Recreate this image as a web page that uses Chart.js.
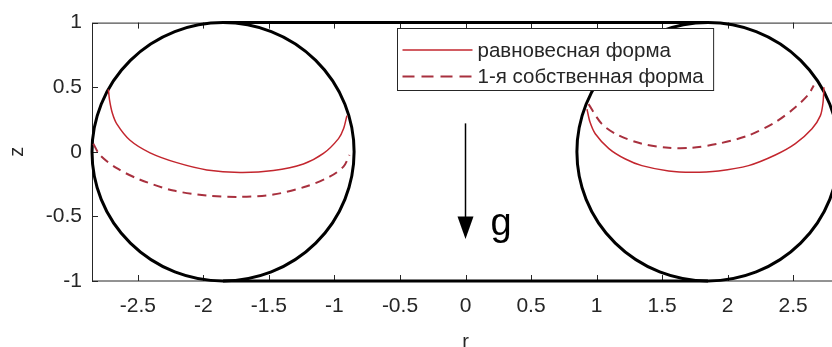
<!DOCTYPE html>
<html>
<head>
<meta charset="utf-8">
<script src="https://cdn.jsdelivr.net/npm/chart.js@4/dist/chart.umd.min.js"></script>
<style>
  html, body { margin: 0; padding: 0; overflow: hidden; background: #fff; }
  canvas { display: block; }
</style>
</head>
<body>
<canvas id="c" width="850" height="347"></canvas>
<script>
// Axis ranges and ticks
const rRange = [-2.85, 2.85];
const zRange = [-1, 1];
const rTicks = [-2.5, -2, -1.5, -1, -0.5, 0, 0.5, 1, 1.5, 2, 2.5];
const zTicks = [-1, -0.5, 0, 0.5, 1];

// Torus cross-sections: centres on the r axis and tube radius
const torusCentersR = [-1.85, 1.85];
const torusRadius = 1;

// Channel walls between the two cross-sections
const wallR = [-1.85, 1.85];
const wallTopZ = [1, 1];
const wallBottomZ = [-1, -1];

// Equilibrium free surface (left and right cross-sections)
const eqLeftR = [-2.725, -2.716, -2.695, -2.661, -2.56, -2.407, -2.203, -1.974, -1.72, -1.466, -1.237, -1.084, -0.969, -0.93, -0.905];
const eqLeftZ = [0.483, 0.40, 0.30, 0.216, 0.089, -0.008, -0.084, -0.14, -0.16, -0.145, -0.094, -0.013, 0.102, 0.18, 0.28];
const eqRightR = [0.927, 0.95, 0.99, 1.094, 1.22, 1.346, 1.55, 1.728, 1.93, 2.16, 2.364, 2.517, 2.644, 2.708, 2.728, 2.735];
const eqRightZ = [0.33, 0.23, 0.14, 0.025, -0.056, -0.107, -0.148, -0.158, -0.148, -0.107, -0.025, 0.063, 0.178, 0.28, 0.38, 0.5];

// First eigenmode of the free surface
const modeLeftR = [-2.84, -2.789, -2.661, -2.483, -2.229, -1.974, -1.72, -1.466, -1.211, -1.033, -0.931, -0.885];
const modeLeftZ = [0.063, -0.025, -0.127, -0.216, -0.3, -0.338, -0.349, -0.331, -0.267, -0.191, -0.115, -0.025];
const modeRightR = [0.939, 1.04, 1.168, 1.346, 1.55, 1.728, 1.93, 2.16, 2.364, 2.517, 2.618, 2.657];
const modeRightZ = [0.369, 0.216, 0.127, 0.063, 0.031, 0.031, 0.063, 0.127, 0.229, 0.344, 0.445, 0.514];

// Gravity arrow (r position, start, head base, tip) and its label position
const gArrow = [0, 0.22, -0.5, -0.675];
const gLabelPos = [0.19, -0.645];

const legendLabels = ['равновесная форма', '1-я собственная форма'];

const FONT = '"Liberation Sans", Arial, sans-serif';
const INK = '#262626';
const EQ_COLOR = '#c3262e';
const MODE_COLOR = '#a8303e';

const pts = (rs, zs) => rs.map((r, i) => ({ x: r, y: zs[i] }));

const curve = (rs, zs, color, dash, width) => ({
  data: pts(rs, zs),
  borderColor: color,
  borderWidth: width,
  borderDash: dash,
  showLine: true,
  pointRadius: 0,
  tension: 0.3,
  fill: false
});

const wall = (rs, zs) => ({
  data: pts(rs, zs),
  borderColor: '#000',
  borderWidth: 3,
  showLine: true,
  pointRadius: 0,
  tension: 0,
  clip: false,
  fill: false
});

// Axes box with inward ticks, and the torus cross-sections
const framePlugin = {
  id: 'frame',
  beforeDatasetsDraw(chart) {
    const { ctx, chartArea: a, scales: { x, y } } = chart;
    ctx.save();
    ctx.strokeStyle = INK;
    ctx.lineWidth = 1;
    ctx.strokeRect(a.left + 0.5, a.top + 0.5, a.right - a.left, a.bottom - a.top - 0.5);
    ctx.beginPath();
    rTicks.forEach(v => {
      const px = Math.round(x.getPixelForValue(v)) + 0.5;
      ctx.moveTo(px, a.bottom); ctx.lineTo(px, a.bottom - 6);
      ctx.moveTo(px, a.top); ctx.lineTo(px, a.top + 6);
    });
    zTicks.forEach(v => {
      const py = Math.round(y.getPixelForValue(v)) + 0.5;
      ctx.moveTo(a.left, py); ctx.lineTo(a.left + 6, py);
    });
    ctx.stroke();

    ctx.strokeStyle = '#000';
    ctx.lineWidth = 3;
    torusCentersR.forEach(c => {
      const cx = x.getPixelForValue(c);
      const cy = y.getPixelForValue(0);
      const rx = Math.abs(x.getPixelForValue(c + torusRadius) - cx);
      const ry = Math.abs(y.getPixelForValue(torusRadius) - cy);
      ctx.beginPath();
      ctx.ellipse(cx, cy, rx, ry, 0, 0, Math.PI * 2);
      ctx.stroke();
    });
    ctx.restore();
  },
  afterDatasetsDraw(chart) {
    const { ctx, scales: { x, y } } = chart;
    ctx.save();
    // gravity arrow
    const ax = x.getPixelForValue(gArrow[0]);
    const y0 = y.getPixelForValue(gArrow[1]);
    const y1 = y.getPixelForValue(gArrow[2]);
    const y2 = y.getPixelForValue(gArrow[3]);
    ctx.strokeStyle = '#000';
    ctx.fillStyle = '#000';
    ctx.lineWidth = 1.5;
    ctx.beginPath();
    ctx.moveTo(ax, y0); ctx.lineTo(ax, y1 + 2);
    ctx.stroke();
    ctx.beginPath();
    ctx.moveTo(ax - 8, y1); ctx.lineTo(ax + 8, y1); ctx.lineTo(ax, y2);
    ctx.closePath();
    ctx.fill();
    ctx.font = '38px ' + FONT;
    ctx.textAlign = 'left';
    ctx.textBaseline = 'alphabetic';
    ctx.fillText('g', x.getPixelForValue(gLabelPos[0]), y.getPixelForValue(gLabelPos[1]));

    // legend box
    ctx.font = '20.5px ' + FONT;
    const tw = Math.max(...legendLabels.map(t => ctx.measureText(t).width));
    const bx = 397.5, by = 28.5, bh = 62;
    const bw = 5 + 70 + 5 + tw + 10;
    ctx.fillStyle = '#fff';
    ctx.fillRect(bx, by, bw, bh);
    ctx.strokeStyle = INK;
    ctx.lineWidth = 1;
    ctx.strokeRect(bx, by, bw, bh);
    const rows = [
      { y: 50, color: EQ_COLOR, dash: [], w: 1.5 },
      { y: 76.5, color: MODE_COLOR, dash: [12, 7], w: 2 }
    ];
    rows.forEach((r, i) => {
      ctx.strokeStyle = r.color;
      ctx.lineWidth = r.w;
      ctx.setLineDash(r.dash);
      ctx.beginPath();
      ctx.moveTo(bx + 5, r.y); ctx.lineTo(bx + 75, r.y);
      ctx.stroke();
      ctx.setLineDash([]);
      ctx.fillStyle = INK;
      ctx.textBaseline = 'middle';
      ctx.fillText(legendLabels[i], bx + 80, r.y + 1);
    });
    ctx.restore();
  }
};

new Chart(document.getElementById('c'), {
  type: 'scatter',
  data: {
    datasets: [
      wall(wallR, wallTopZ),
      wall(wallR, wallBottomZ),
      curve(eqLeftR, eqLeftZ, EQ_COLOR, [], 1.5),
      curve(eqRightR, eqRightZ, EQ_COLOR, [], 1.5),
      curve(modeLeftR, modeLeftZ, MODE_COLOR, [9, 6], 2),
      curve(modeRightR, modeRightZ, MODE_COLOR, [9, 6], 2)
    ]
  },
  options: {
    responsive: false,
    animation: false,
    events: [],
    layout: { padding: { top: 19, right: 11, left: 0, bottom: 0 } },
    plugins: { legend: { display: false }, tooltip: { enabled: false } },
    scales: {
      x: {
        type: 'linear',
        min: rRange[0], max: rRange[1],
        grid: { display: false, drawTicks: false },
        border: { display: false },
        afterBuildTicks: s => { s.ticks = rTicks.map(v => ({ value: v })); },
        afterFit: s => { s.height = 66; },
        ticks: { color: INK, font: { family: FONT, size: 21 }, padding: 13, maxRotation: 0, callback: v => String(v) },
        title: { display: true, text: 'r', color: INK, font: { family: FONT, size: 20, lineHeight: 1 }, padding: { top: 0, bottom: -5 } }
      },
      y: {
        type: 'linear',
        min: zRange[0], max: zRange[1],
        grid: { display: false, drawTicks: false },
        border: { display: false },
        afterBuildTicks: s => { s.ticks = zTicks.map(v => ({ value: v })); },
        afterFit: s => { s.width = 92; },
        ticks: { color: INK, font: { family: FONT, size: 21 }, padding: 10, callback: v => String(v) },
        title: { display: true, text: 'z', color: INK, font: { family: FONT, size: 20, lineHeight: 1 }, padding: { top: 7, bottom: 0 } }
      }
    }
  },
  plugins: [framePlugin]
});
</script>
</body>
</html>
